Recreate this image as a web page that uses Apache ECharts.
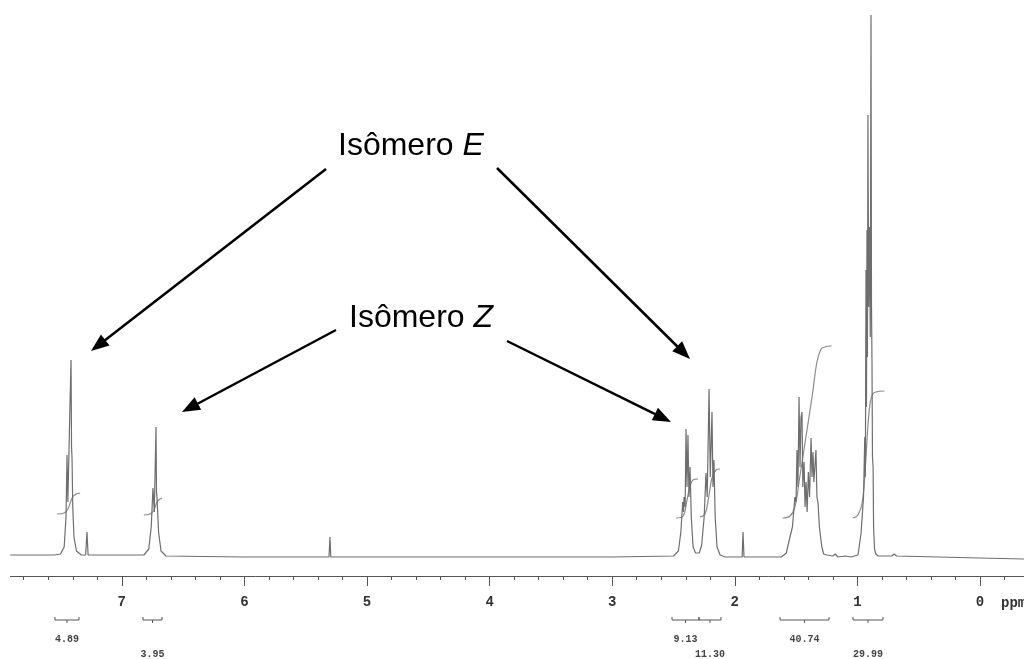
<!DOCTYPE html>
<html>
<head>
<meta charset="utf-8">
<script src="https://cdn.jsdelivr.net/npm/echarts@6/dist/echarts.min.js"></script>
<style>
html, body { margin: 0; padding: 0; background: #fff; }
#main { width: 1024px; height: 659px; }
</style>
</head>
<body>
<div id="main"></div>
<script>
// 1H NMR trace: chemical shift (ppm) and height above baseline
var specPpm = [7.91, 7.70, 7.55, 7.50, 7.47, 7.455, 7.447, 7.44, 7.43, 7.425, 7.414, 7.41, 7.406, 7.40, 7.39, 7.37, 7.33,
    7.295, 7.284, 7.275, 7.00,
    6.82, 6.78, 6.76, 6.746, 6.735, 6.721, 6.717, 6.713, 6.70, 6.68, 6.64, 6.00,
    5.31, 5.302, 5.295, 4.00, 3.00,
    2.50, 2.46, 2.44, 2.425, 2.418, 2.414, 2.405, 2.398, 2.39, 2.382, 2.374, 2.365, 2.355, 2.34, 2.32,
    2.29, 2.27, 2.25, 2.235, 2.225, 2.21, 2.20, 2.186, 2.178, 2.17, 2.16, 2.145, 2.12, 2.08,
    1.94, 1.933, 1.925,
    1.62, 1.58, 1.55, 1.53, 1.51, 1.50, 1.493, 1.485, 1.476, 1.468, 1.46, 1.452, 1.445, 1.435, 1.427, 1.419,
    1.41, 1.40, 1.39, 1.378, 1.37, 1.362, 1.355, 1.338, 1.33, 1.321, 1.31, 1.30, 1.29, 1.275, 1.25, 1.20,
    1.18, 1.16, 1.10, 1.05,
    0.995, 0.97, 0.95, 0.94, 0.935, 0.93, 0.926, 0.922, 0.918, 0.914, 0.908, 0.90, 0.895, 0.889, 0.885, 0.881,
    0.877, 0.872, 0.868, 0.86, 0.85, 0.83,
    0.72, 0.70, 0.68, 0.00, -0.36];
var specInt = [2, 2, 2, 3, 10, 40, 102, 55, 110, 140, 197, 110, 99, 50, 20, 6, 2,
    2, 25, 2, 2,
    2, 8, 30, 69, 45, 130, 65, 60, 25, 6, 1, 0,
    0, 20, 0, 0, 0,
    1, 6, 25, 55, 45, 60, 50, 128, 70, 122, 60, 90, 40, 10, 4,
    4, 12, 40, 84, 60, 168, 80, 145, 70, 97, 40, 10, 2, 0,
    0, 25, 0,
    0, 4, 20, 30, 60, 55, 107, 70, 160, 90, 140, 145, 70, 95, 50, 75,
    45, 85, 60, 119, 80, 105, 75, 107, 60, 54, 30, 20, 10, 3, 2, 1,
    3, 0, 1, 0,
    2, 24, 60, 120, 80, 287, 150, 327, 200, 442, 250, 330, 220, 542, 250, 195,
    100, 90, 30, 8, 3, 1,
    1, 3, 1, -1, -2];

// integral curves (ppm, level)
var integralPpm = [
    [7.528, 7.47, 7.44, 7.415, 7.395, 7.37, 7.34],
    [6.82, 6.77, 6.737, 6.713, 6.688, 6.672],
    [2.48, 2.422, 2.39, 2.365, 2.341, 2.30],
    [2.284, 2.243, 2.21, 2.186, 2.153, 2.121],
    [1.61, 1.55, 1.51, 1.47, 1.42, 1.37, 1.33, 1.30, 1.27, 1.21],
    [1.036, 0.995, 0.96, 0.935, 0.915, 0.895, 0.875, 0.85, 0.78]
];
var integralVal = [
    [43, 44, 48, 56, 61, 63, 64],
    [42, 43, 47, 55, 58, 59],
    [39, 41, 57, 71, 77, 78],
    [40, 43, 62, 79, 87, 88],
    [39, 41, 50, 80, 120, 160, 195, 207, 210, 211],
    [39, 42, 55, 90, 130, 155, 163, 165, 166]
];

// integration brackets under the axis
var bracketFrom = [7.545, 6.827, 2.512, 2.292, 1.631, 1.036];
var bracketTo = [7.349, 6.672, 2.292, 2.113, 1.232, 0.791];
var bracketLabel = ['4.89', '3.95', '9.13', '11.30', '40.74', '29.99'];
var bracketRow = [0, 1, 0, 1, 0, 1];

var myChart = echarts.init(document.getElementById('main'));

var spectrum = [];
for (var i = 0; i < specPpm.length; i++) {
    spectrum.push([specPpm[i], specInt[i]]);
}

var series = [{
    type: 'line',
    data: spectrum,
    showSymbol: false,
    lineStyle: { color: '#6e6e6e', width: 1.2 },
    z: 3
}];

for (var k = 0; k < integralPpm.length; k++) {
    var pts = [];
    for (var j = 0; j < integralPpm[k].length; j++) {
        pts.push([integralPpm[k][j], integralVal[k][j]]);
    }
    series.push({
        type: 'line',
        data: pts,
        smooth: 0.4,
        showSymbol: false,
        lineStyle: { color: '#8a8a8a', width: 1.2 },
        z: 2
    });
}

var brackets = [];
for (var b = 0; b < bracketFrom.length; b++) {
    brackets.push([bracketFrom[b], bracketTo[b], bracketRow[b]]);
}
series.push({
    type: 'custom',
    data: brackets,
    encode: { x: [0, 1], y: 2 },
    renderItem: function (params, api) {
        var a = api.coord([api.value(0), -19]);
        var c = api.coord([api.value(1), -19]);
        var y = a[1] + 44;
        var mid = (a[0] + c[0]) / 2;
        var row = api.value(2);
        return {
            type: 'group',
            children: [
                { type: 'polyline', shape: { points: [[a[0], y - 3], [a[0], y], [c[0], y], [c[0], y - 3]] },
                  style: { stroke: '#555', fill: null, lineWidth: 1 } },
                { type: 'line', shape: { x1: mid, y1: y, x2: mid, y2: y + 3 },
                  style: { stroke: '#555', lineWidth: 1 } },
                { type: 'text', x: mid, y: y + 19 + row * 15,
                  style: { text: bracketLabel[params.dataIndex], font: 'bold 10px "Liberation Mono", monospace',
                           fill: '#444', align: 'center', verticalAlign: 'middle' } }
            ]
        };
    }
});

function arrow(x1, y1, x2, y2) {
    var dx = x2 - x1, dy = y2 - y1;
    var L = Math.sqrt(dx * dx + dy * dy), ux = dx / L, uy = dy / L;
    var hl = 18, hw = 7;
    var bx = x2 - ux * hl, by = y2 - uy * hl;
    return [
        { type: 'line', shape: { x1: x1, y1: y1, x2: bx + ux * 2, y2: by + uy * 2 },
          style: { stroke: '#000', lineWidth: 2.5 } },
        { type: 'polygon', shape: { points: [[x2, y2], [bx - uy * hw, by + ux * hw], [bx + uy * hw, by - ux * hw]] },
          style: { fill: '#000' } }
    ];
}

var labelRich = {
    a: { font: '32px "Liberation Sans", Arial, sans-serif', fill: '#000' },
    b: { font: 'italic 32px "Liberation Sans", Arial, sans-serif', fill: '#000' }
};

var graphics = [
    { type: 'text', x: 338, y: 146, style: { text: '{a|Isômero }{b|E}', rich: labelRich, verticalAlign: 'middle' } },
    { type: 'text', x: 349, y: 318, style: { text: '{a|Isômero }{b|Z}', rich: labelRich, verticalAlign: 'middle' } },
    { type: 'text', x: 1001, y: 603, style: { text: 'ppm', font: 'bold 14px "Liberation Mono", monospace', fill: '#333', verticalAlign: 'middle' } },
    { type: 'rect', shape: { x: 0, y: 570, width: 10, height: 20 }, style: { fill: '#fff' }, z: 100 }
]
    .concat(arrow(326, 169, 91, 351))
    .concat(arrow(497, 168, 690, 359))
    .concat(arrow(336, 330, 182, 412))
    .concat(arrow(507, 341, 671, 422));

option = {
    animation: false,
    backgroundColor: '#fff',
    grid: {
        left: -0.8,
        right: -78.6,
        top: 0,
        bottom: 83,
        containLabel: false,
        outerBoundsMode: 'none'
    },
    xAxis: {
        type: 'value',
        inverse: true,
        min: -1,
        max: 8,
        interval: 1,
        axisLine: { onZero: false, lineStyle: { color: '#555', width: 1 } },
        axisTick: { length: 10, lineStyle: { color: '#555' } },
        minorTick: { show: true, splitNumber: 5, length: 4, lineStyle: { color: '#555' } },
        splitLine: { show: false },
        minorSplitLine: { show: false },
        axisLabel: {
            margin: 19,
            color: '#333',
            fontFamily: '"Liberation Mono", monospace',
            fontWeight: 'bold',
            fontSize: 14,
            showMaxLabel: false,
            showMinLabel: false
        }
    },
    yAxis: {
        type: 'value',
        show: false,
        min: -19,
        max: 557
    },
    series: series,
    graphic: graphics
};

myChart.setOption(option);
</script>
</body>
</html>
